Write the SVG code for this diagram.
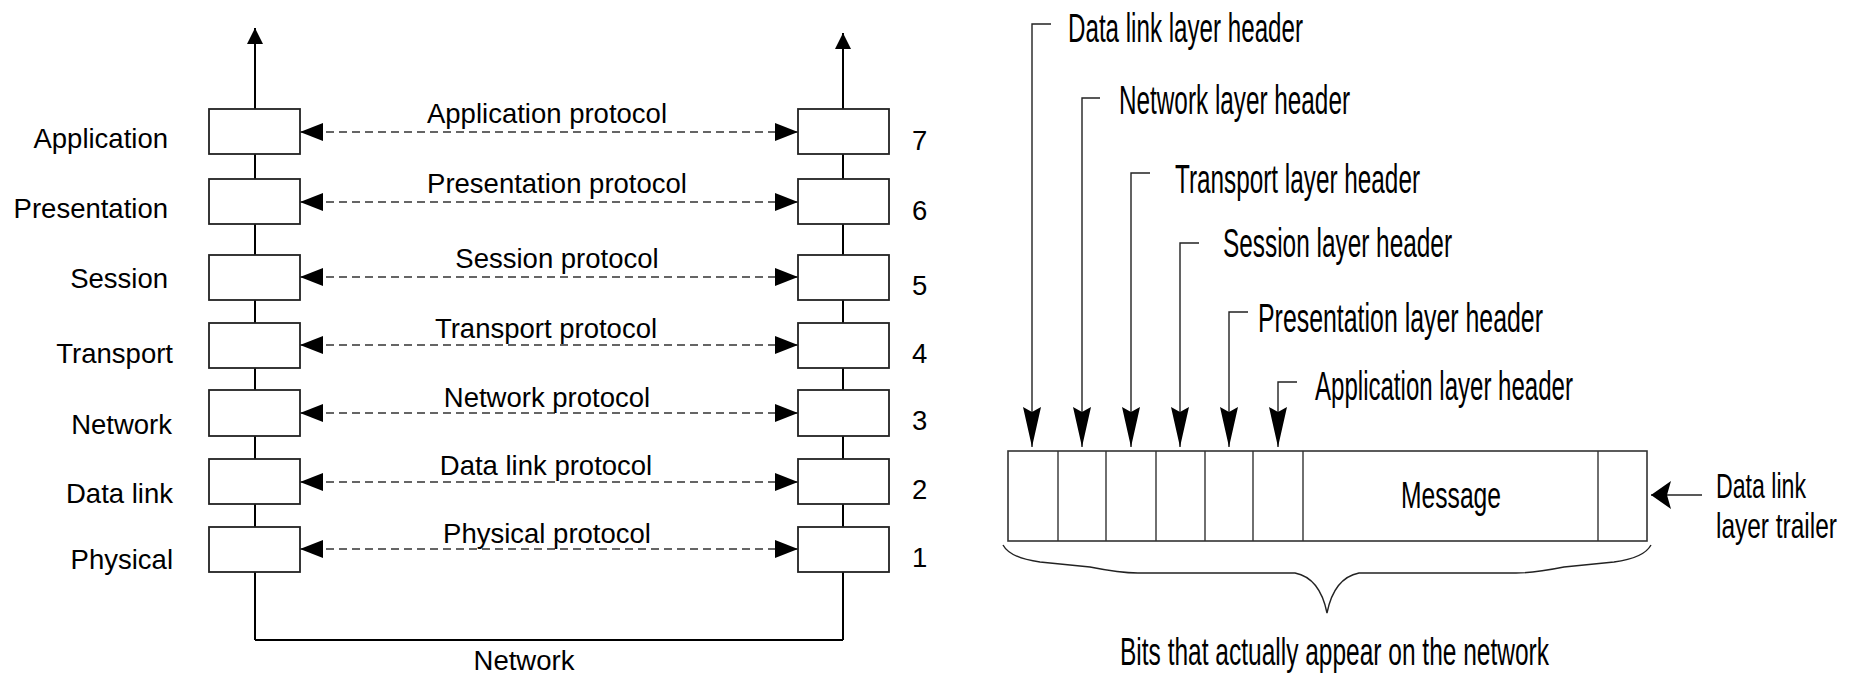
<svg xmlns="http://www.w3.org/2000/svg" width="1853" height="680" viewBox="0 0 1853 680">
<style>
.bg{fill:#fff}
.stem{stroke:#000;stroke-width:2;fill:none}
.box{fill:#fff;stroke:#222;stroke-width:1.8}
.dash{stroke:#333;stroke-width:1.4;stroke-dasharray:8 5;fill:none}
.thin{stroke:#222;stroke-width:1.4;fill:none}
.lbl{font-family:"Liberation Sans",Arial,sans-serif;font-size:27.5px;fill:#000}
.cnd{font-family:"Liberation Sans",Arial,sans-serif;font-size:40px;fill:#000}
.trl{font-family:"Liberation Sans",Arial,sans-serif;font-size:35px;fill:#000}
.cell{fill:#fff;stroke:#333;stroke-width:1.6}
.div{stroke:#333;stroke-width:1.4}
</style>
<defs>
<marker id="hp" markerUnits="userSpaceOnUse" markerWidth="23" markerHeight="18" refX="23" refY="9" orient="auto-start-reverse" viewBox="0 0 23 18"><path d="M0,0 L23,9 L0,18 z" fill="#000"/></marker>
<marker id="up" markerUnits="userSpaceOnUse" markerWidth="16" markerHeight="17" refX="16" refY="8" orient="auto" viewBox="0 0 16 16"><path d="M0,0 L16,8 L0,16 z" fill="#000"/></marker>
<marker id="dn" markerUnits="userSpaceOnUse" markerWidth="40" markerHeight="18" refX="40" refY="9" orient="auto" viewBox="0 0 40 18"><path d="M0,0 L5,9 L0,18 L40,9 z" fill="#000"/></marker>
<marker id="lf" markerUnits="userSpaceOnUse" markerWidth="20" markerHeight="28" refX="20" refY="14" orient="auto" viewBox="0 0 20 28"><path d="M0,0 L4,14 L0,28 L20,14 z" fill="#000"/></marker>
</defs>
<rect class="bg" x="0" y="0" width="1853" height="680"/>

<g id="connectors">
<path class="stem" d="M255,640 V28" marker-end="url(#up)"/>
<path class="stem" d="M843,640 V33" marker-end="url(#up)"/>
<path class="stem" d="M255,640 H843"/>
<line class="dash" x1="300" y1="132" x2="798" y2="132" marker-start="url(#hp)" marker-end="url(#hp)"/>
<line class="dash" x1="300" y1="202" x2="798" y2="202" marker-start="url(#hp)" marker-end="url(#hp)"/>
<line class="dash" x1="300" y1="277" x2="798" y2="277" marker-start="url(#hp)" marker-end="url(#hp)"/>
<line class="dash" x1="300" y1="345" x2="798" y2="345" marker-start="url(#hp)" marker-end="url(#hp)"/>
<line class="dash" x1="300" y1="413" x2="798" y2="413" marker-start="url(#hp)" marker-end="url(#hp)"/>
<line class="dash" x1="300" y1="482" x2="798" y2="482" marker-start="url(#hp)" marker-end="url(#hp)"/>
<line class="dash" x1="300" y1="549" x2="798" y2="549" marker-start="url(#hp)" marker-end="url(#hp)"/>
<path class="thin" d="M1051,24 H1032 V447" marker-end="url(#dn)"/>
<path class="thin" d="M1100,98 H1082 V447" marker-end="url(#dn)"/>
<path class="thin" d="M1150,173 H1131 V447" marker-end="url(#dn)"/>
<path class="thin" d="M1199,243 H1180 V447" marker-end="url(#dn)"/>
<path class="thin" d="M1248,312 H1229 V447" marker-end="url(#dn)"/>
<path class="thin" d="M1297,382 H1278 V447" marker-end="url(#dn)"/>
<path class="thin" d="M1702,495 H1651" marker-end="url(#lf)"/>
<path class="thin" d="M1003,545 Q1010,558 1040,562 L1090,567 Q1120,573 1138,573 L1295,573 Q1320,578 1327,613 Q1334,578 1359,573 L1516,573 Q1534,573 1564,567 L1614,562 Q1644,558 1651,545"/>
</g>

<g id="left-stack">
<g id="l7"><rect class="box" x="209" y="109" width="91" height="45"/><text class="lbl" x="168" y="148" text-anchor="end">Application</text></g>
<g id="l6"><rect class="box" x="209" y="179" width="91" height="45"/><text class="lbl" x="168" y="218" text-anchor="end">Presentation</text></g>
<g id="l5"><rect class="box" x="209" y="255" width="91" height="45"/><text class="lbl" x="168" y="288" text-anchor="end">Session</text></g>
<g id="l4"><rect class="box" x="209" y="323" width="91" height="45"/><text class="lbl" x="173" y="363" text-anchor="end">Transport</text></g>
<g id="l3"><rect class="box" x="209" y="390" width="91" height="46"/><text class="lbl" x="172" y="434" text-anchor="end">Network</text></g>
<g id="l2"><rect class="box" x="209" y="459" width="91" height="45"/><text class="lbl" x="173" y="503" text-anchor="end">Data link</text></g>
<g id="l1"><rect class="box" x="209" y="527" width="91" height="45"/><text class="lbl" x="173" y="569" text-anchor="end">Physical</text></g>
</g>

<g id="right-stack">
<g id="r7"><rect class="box" x="798" y="109" width="91" height="45"/><text class="lbl" x="912" y="150">7</text></g>
<g id="r6"><rect class="box" x="798" y="179" width="91" height="45"/><text class="lbl" x="912" y="220">6</text></g>
<g id="r5"><rect class="box" x="798" y="255" width="91" height="45"/><text class="lbl" x="912" y="295">5</text></g>
<g id="r4"><rect class="box" x="798" y="323" width="91" height="45"/><text class="lbl" x="912" y="363">4</text></g>
<g id="r3"><rect class="box" x="798" y="390" width="91" height="46"/><text class="lbl" x="912" y="430">3</text></g>
<g id="r2"><rect class="box" x="798" y="459" width="91" height="45"/><text class="lbl" x="912" y="499">2</text></g>
<g id="r1"><rect class="box" x="798" y="527" width="91" height="45"/><text class="lbl" x="912" y="567">1</text></g>
</g>

<g id="protocol-labels">
<text class="lbl" x="547" y="123" text-anchor="middle">Application protocol</text>
<text class="lbl" x="557" y="193" text-anchor="middle">Presentation protocol</text>
<text class="lbl" x="557" y="268" text-anchor="middle">Session protocol</text>
<text class="lbl" x="546" y="338" text-anchor="middle">Transport protocol</text>
<text class="lbl" x="547" y="407" text-anchor="middle">Network protocol</text>
<text class="lbl" x="546" y="475" text-anchor="middle">Data link protocol</text>
<text class="lbl" x="547" y="543" text-anchor="middle">Physical protocol</text>
<text id="network" class="lbl" x="524" y="670" text-anchor="middle">Network</text>
</g>

<g id="header-labels">
<text class="cnd" x="1068" y="42" textLength="235" lengthAdjust="spacingAndGlyphs">Data link layer header</text>
<text class="cnd" x="1119" y="114" textLength="231" lengthAdjust="spacingAndGlyphs">Network layer header</text>
<text class="cnd" x="1175" y="193" textLength="245" lengthAdjust="spacingAndGlyphs">Transport layer header</text>
<text class="cnd" x="1223" y="257" textLength="229" lengthAdjust="spacingAndGlyphs">Session layer header</text>
<text class="cnd" x="1258" y="332" textLength="285" lengthAdjust="spacingAndGlyphs">Presentation layer header</text>
<text class="cnd" x="1315" y="400" textLength="258" lengthAdjust="spacingAndGlyphs">Application layer header</text>
</g>

<g id="frame">
<rect class="cell" x="1008" y="451" width="639" height="90"/>
<line class="div" x1="1058" y1="451" x2="1058" y2="541"/>
<line class="div" x1="1106" y1="451" x2="1106" y2="541"/>
<line class="div" x1="1156" y1="451" x2="1156" y2="541"/>
<line class="div" x1="1205" y1="451" x2="1205" y2="541"/>
<line class="div" x1="1253" y1="451" x2="1253" y2="541"/>
<line class="div" x1="1303" y1="451" x2="1303" y2="541"/>
<line class="div" x1="1598" y1="451" x2="1598" y2="541"/>
<text class="cnd" x="1401" y="508" textLength="100" lengthAdjust="spacingAndGlyphs" style="font-size:37px">Message</text>
</g>

<g id="trailer-label">
<text class="trl" transform="translate(1716,498) scale(0.661,1)" x="0" y="0">Data link</text>
<text class="trl" transform="translate(1716,538) scale(0.699,1)" x="0" y="0">layer trailer</text>
</g>

<g id="bits-label">
<text class="cnd" x="1120" y="665" textLength="429" lengthAdjust="spacingAndGlyphs" style="font-size:38px">Bits that actually appear on the network</text>
</g>
</svg>
